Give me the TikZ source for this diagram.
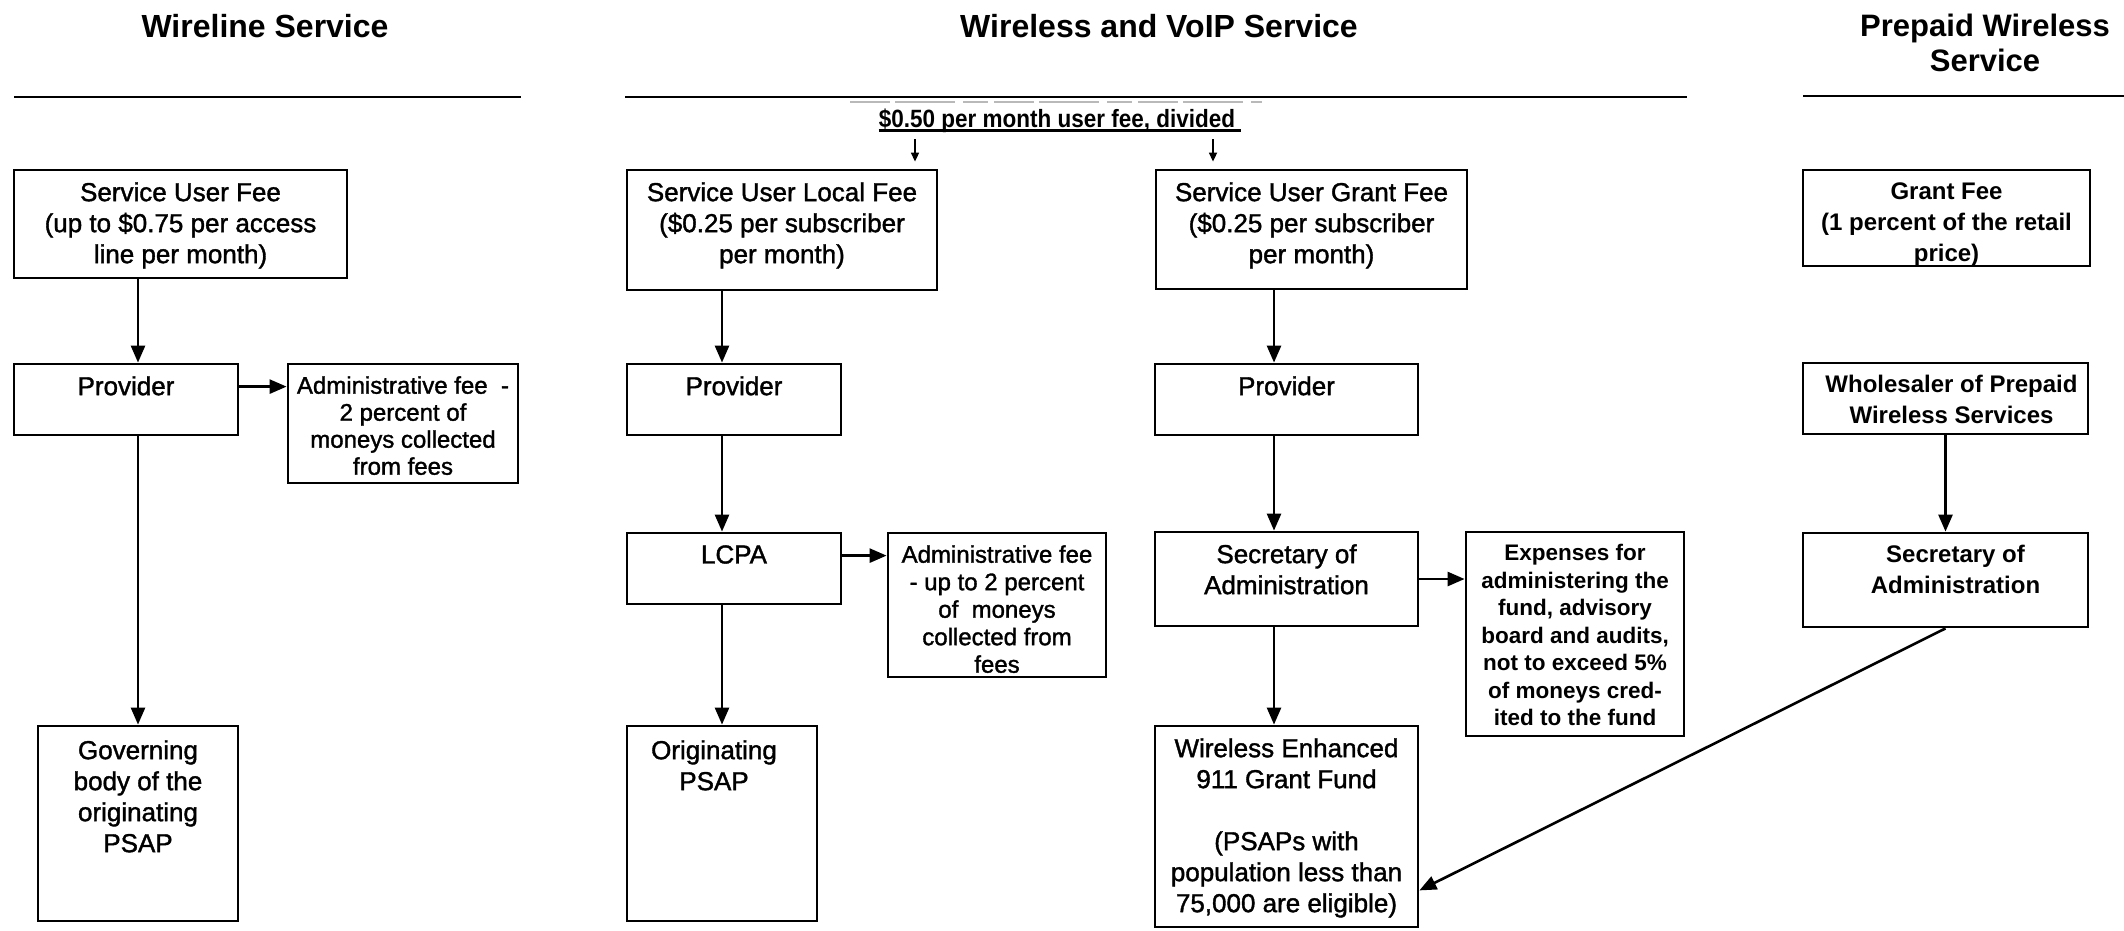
\documentclass[tikz,border=0pt]{standalone}
\usepackage{fontspec}
\setmainfont{Liberation Sans}
\newfontfamily\heavy{Liberation Sans}[FakeBold=1.4]
\newfontfamily\condfont{Liberation Sans}[FakeStretch=0.9]
\usetikzlibrary{arrows.meta,calc,fit}
\tikzset{
  boxs/.style={draw, line width=2.8pt, inner sep=0pt},
  btxt/.style={inner sep=0pt, align=center, anchor=north, font=\heavy\fontsize{26}{31}\selectfont},
  smalltxt/.style={font=\heavy\fontsize{24}{27.5}\selectfont},
  boldtxt/.style={font=\bfseries\fontsize{22.5}{27.5}\selectfont},
  prepaidtxt/.style={font=\bfseries\fontsize{24}{31}\selectfont},
  arr/.style={line width=2.6pt, -{Triangle[length=17pt,width=14pt]}},
  sarr/.style={line width=1.6pt, -{Triangle[length=9pt,width=8pt]}},
  hrule/.style={line width=2.6pt},
  ttl/.style={inner sep=0pt, align=center, font=\bfseries\fontsize{32}{35}\selectfont}
}
\newcommand\mkbox[7][]{%
  \coordinate (#2-a) at (#3,#4);
  \coordinate (#2-b) at (#5,#6);
  \node[boxs, fit=(#2-a)(#2-b)] (#2) {};
  \node[btxt,#1] (#2-t) at ([yshift=-13.5pt]#2.north) {#7};
}
\begin{document}
\begin{tikzpicture}[x=1pt,y=-1pt]
\useasboundingbox[fill=white] (0,0) rectangle (2124,930);

% titles and rules
\node[ttl] (t1) at (265,26) {Wireline Service};
\node[ttl] (t2) at (1159,26) {Wireless and VoIP Service};
\node[ttl, font=\bfseries\fontsize{31}{35}\selectfont] (t3) at (1985,43) {Prepaid Wireless\\Service};
\coordinate (r1a) at (14,97);   \coordinate (r1b) at (521,97);
\coordinate (r2a) at (625,97);  \coordinate (r2b) at (1687,97);
\coordinate (r3a) at (1803,96); \coordinate (r3b) at (2124,96);
\draw[hrule] (r1a) -- (r1b);
\draw[hrule] (r2a) -- (r2b);
\draw[hrule] (r3a) -- (r3b);
\draw[gray!55, line width=1.2pt, dash pattern=on 40pt off 5pt on 60pt off 8pt on 25pt off 6pt] (850,102) -- (1262,102);

% wireline column
\mkbox{suf}{14}{170}{347}{278}{Service User Fee\\(up to \$0.75 per access\\line per month)}
\mkbox{prov1}{14}{364}{238}{435}{Provider}
\mkbox[font=\heavy\fontsize{24}{27}\selectfont]{adm1}{288}{364}{518}{483}{Administrative fee \ -\\2 percent of\\moneys collected\\from fees}
\mkbox[yshift=-2pt]{gov}{38}{726}{238}{921}{Governing\\body of the\\originating\\PSAP}

% wireless and VoIP column
\node[inner sep=0pt, font=\condfont\bfseries\fontsize{25}{30}\selectfont] (split) at (1057,121) {\$0.50 per month user fee, divided};
\draw[line width=2.4pt] ([yshift=-3pt]split.base west) -- ([yshift=-3pt,xshift=6pt]split.base east);
\mkbox{sulf}{627}{170}{937}{290}{Service User Local Fee\\(\$0.25 per subscriber\\per month)}
\mkbox{sugf}{1156}{170}{1467}{289}{Service User Grant Fee\\(\$0.25 per subscriber\\per month)}
\coordinate (s1) at (915,0);
\coordinate (s2) at (1213,0);
\draw[sarr, shorten <=6pt, shorten >=7pt] (split.south -| s1) -- (sulf.north -| s1);
\draw[sarr, shorten <=6pt, shorten >=7pt] (split.south -| s2) -- (sugf.north -| s2);

\mkbox{prov2}{627}{364}{841}{435}{Provider}
\mkbox{lcpa}{627}{533}{841}{604}{LCPA}
\mkbox[smalltxt]{adm2}{888}{533}{1106}{677}{Administrative fee\\- up to 2 percent\\of \ moneys\\collected from\\fees}
\mkbox[xshift=-8pt,yshift=-2pt]{orig}{627}{726}{817}{921}{Originating\\PSAP}

\mkbox{prov3}{1155}{364}{1418}{435}{Provider}
\mkbox{sec1}{1155}{532}{1418}{626}{Secretary of\\Administration}
\mkbox[boldtxt]{exp}{1466}{532}{1684}{736}{Expenses for\\administering the\\fund, advisory\\board and audits,\\not to exceed 5\%\\of moneys cred-\\ited to the fund}
\mkbox{we}{1155}{726}{1418}{927}{Wireless Enhanced\\911 Grant Fund\\[31pt](PSAPs with\\population less than\\75,000 are eligible)}

% prepaid column
\mkbox[prepaidtxt]{gf}{1803}{170}{2090}{266}{Grant Fee\\(1 percent of the retail\\price)}
\mkbox[prepaidtxt,xshift=6pt]{whole}{1803}{363}{2088}{434}{Wholesaler of Prepaid\\Wireless Services}
\mkbox[prepaidtxt,xshift=10pt]{sec2}{1803}{533}{2088}{627}{Secretary of\\Administration}

% connectors
\coordinate (gx) at (1274,0);
\coordinate (h1) at ($(prov1.north east)+(0,24)$);
\coordinate (h2) at ($(lcpa.north east)+(0,24)$);
\coordinate (dg) at ($(we.south east)+(0,-38)$);
\draw[arr] (suf.south -| gov.north) -- (prov1.north -| gov.north);
\draw[arr] (prov1.south -| gov.north) -- (gov.north);
\draw[arr] (h1) -- (h1 -| adm1.west);

\draw[arr] (sulf.south -| orig.north) -- (prov2.north -| orig.north);
\draw[arr] (prov2.south -| orig.north) -- (lcpa.north -| orig.north);
\draw[arr] (lcpa.south -| orig.north) -- (orig.north);
\draw[arr] (h2) -- (h2 -| adm2.west);

\draw[arr] (sugf.south -| gx) -- (prov3.north -| gx);
\draw[arr] (prov3.south -| gx) -- (sec1.north -| gx);
\draw[arr] (sec1.south -| gx) -- (we.north -| gx);
\draw[arr] (sec1.east) -- (exp.west |- sec1.east);

\draw[arr] (whole.south) -- (sec2.north);
\draw[arr] (sec2.south) -- (dg);
\end{tikzpicture}
\end{document}
